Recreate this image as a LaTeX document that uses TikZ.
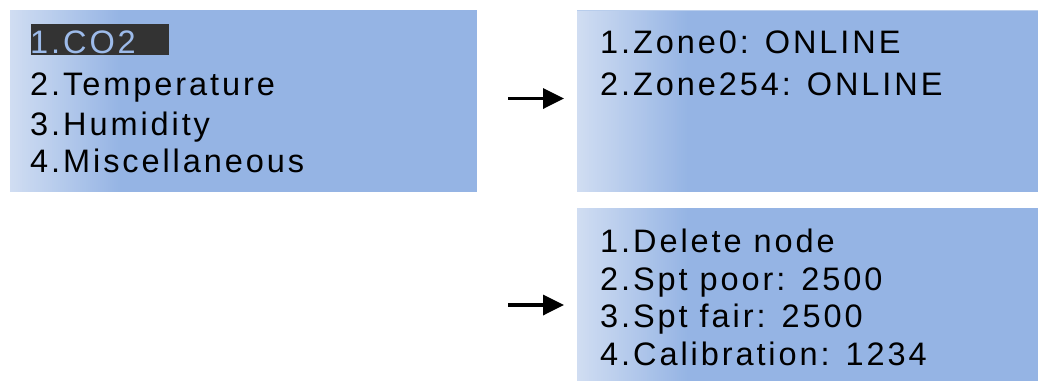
\documentclass[tikz,border=0pt]{standalone}
\usepackage{fontspec}
\setmainfont{Liberation Sans}[LetterSpace=9]
\usetikzlibrary{arrows.meta}
\definecolor{lcd}{HTML}{95B4E4}
\definecolor{lcdlight}{HTML}{D0DDF2}
\definecolor{hlbg}{HTML}{333333}
\definecolor{hlfg}{HTML}{9DBBEA}
\tikzset{
  x=1pt, y=-1pt,
  line/.style={anchor=base west, inner sep=0pt, font=\fontsize{32.5}{38}\selectfont, text=black},
  go/.style={line width=3.5pt, -{Triangle[length=21pt, width=20pt]}}
}
\newcommand{\lcdscreen}[4]{%
  \fill[lcd] (#1,#2) rectangle (#3,#4);
  \foreach \k in {0,...,55}{%
    \pgfmathsetmacro{\pct}{100*\k/55}%
    \fill[lcd!\pct!lcdlight] (#1+2*\k,#2) rectangle (#1+2*\k+2.4,#4);
  }}
\begin{document}
\begin{tikzpicture}
\useasboundingbox (0,0) rectangle (1038,381);
% screens
\lcdscreen{10}{10}{477}{192}
\lcdscreen{577}{10}{1038}{192}
\lcdscreen{577}{208}{1038}{381}
\draw[lcdlight!60!lcd, line width=1pt] (577,10.5) -- (1038,10.5);
% highlight
\fill[hlbg] (30.7,24) rectangle (169,55);
% screen 1 text
\node[line, text=hlfg] (a1) at (30,53) {1.CO2};
\node[line] (a2) at (30,95) {2.Temperature};
\node[line] (a3) at (30,135) {3.Humidity};
\node[line] (a4) at (30,172) {4.Miscellaneous};
% screen 2 text
\node[line] (b1) at (600,53) {1.Zone0: ONLINE};
\node[line] (b2) at (600,95) {2.Zone254: ONLINE};
% screen 3 text
\node[line] (c1) at (600,252) {1.Delete node};
\node[line] (c2) at (600,290) {2.Spt poor: 2500};
\node[line] (c3) at (600,327) {3.Spt fair: 2500};
\node[line] (c4) at (600,365) {4.Calibration: 1234};
% arrows
\coordinate (p1s) at (508,98.5);
\coordinate (p1e) at (564,98.5);
\coordinate (p2s) at (508,305);
\coordinate (p2e) at (564,305);
\draw[go] (p1s) -- (p1e);
\draw[go] (p2s) -- (p2e);
\end{tikzpicture}
\end{document}
